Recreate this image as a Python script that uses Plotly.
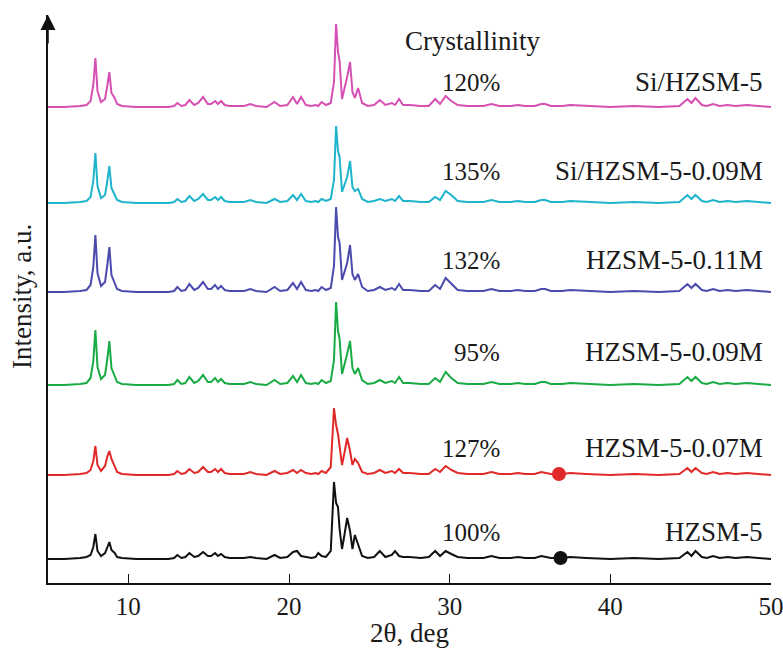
import plotly.graph_objects as go

# ---------------- data ----------------
two_theta = [5.0, 6.0, 7.0, 7.4, 7.65, 7.82, 7.95, 8.08, 8.3, 8.55, 8.7, 8.82, 8.95, 9.15, 9.3, 9.6,
             10.5, 11.5, 12.5, 12.85, 13.05, 13.3, 13.55, 13.8, 14.1, 14.35, 14.65, 14.95, 15.15, 15.4,
             15.58, 15.77, 16.0, 16.3, 16.6, 17.2, 17.6, 17.95, 18.6, 19.1, 19.45, 19.9, 20.25, 20.5,
             20.75, 21.05, 21.4, 21.65, 21.82, 22.03, 22.3, 22.6, 22.8, 22.93, 23.05, 23.15, 23.3, 23.45,
             23.62, 23.8, 23.95, 24.1, 24.3, 24.55, 24.9, 25.3, 25.65, 26.0, 26.4, 26.6, 26.85, 27.1,
             27.5, 28.2, 28.7, 29.1, 29.4, 29.75, 30.1, 30.5, 31.1, 31.6, 32.1, 32.6, 33.1, 33.8, 34.25,
             34.7, 35.3, 35.7, 35.95, 36.3, 37.0, 37.5, 38.5, 40.0, 41.5, 43.0, 44.3, 44.8, 45.05, 45.3,
             45.7, 46.0, 46.4, 46.8, 47.3, 47.8, 48.5, 49.2, 50.0]

I_si_hzsm5 = ([0, 0, 1, 2, 6, 22, 49, 16, 5, 8, 22, 35, 14, 9, 3, 1, 0, 0, 0]
              + [1, 4, 1, 2, 7, 2, 4, 10, 3, 3, 6, 3, 6, 2, 1, 1, 1, 3, 1, 0, 5, 1, 2]
              + [10, 3, 10, 2, 1, 2, 1, 5, 2, 4, 25, 83, 55, 46, 8, 18, 30, 45, 15, 9, 19, 4, 1]
              + [2, 7, 2, 4, 2, 8, 2, 2, 1, 1, 8, 3, 11, 6, 2, 1, 1, 1, 3, 1, 1, 2, 1, 1, 3, 3, 1, 1, 2, 1, 0, 1, 0]
              + [1, 8, 4, 9, 2, 1, 3, 1, 2, 1, 2, 1, 0])
I_si_hzsm5_009 = ([0, 0, 1, 2, 6, 22, 50, 17, 5, 8, 23, 37, 15, 9, 3, 1, 0, 0, 0]
                  + [1, 4, 1, 2, 7, 2, 4, 9, 3, 3, 6, 3, 6, 2, 1, 1, 1, 3, 1, 0, 4, 1, 2]
                  + [8, 3, 9, 2, 1, 2, 1, 4, 2, 4, 23, 77, 52, 46, 11, 18, 26, 42, 16, 12, 14, 4, 1]
                  + [2, 4, 2, 4, 2, 7, 2, 2, 1, 1, 6, 3, 12, 8, 2, 1, 1, 1, 3, 1, 1, 2, 1, 1, 3, 3, 1, 1, 2, 1, 0, 1, 0]
                  + [1, 8, 4, 8, 2, 1, 3, 1, 2, 1, 2, 1, 0])
I_hzsm5_011 = ([0, 0, 1, 2, 7, 25, 57, 19, 6, 10, 28, 45, 17, 10, 3, 1, 0, 0, 0]
               + [1, 5, 1, 2, 8, 2, 4, 10, 3, 3, 7, 3, 6, 2, 1, 1, 1, 3, 1, 0, 5, 1, 2]
               + [9, 3, 10, 2, 1, 2, 1, 5, 2, 4, 26, 85, 55, 49, 12, 20, 29, 47, 18, 12, 18, 5, 1]
               + [2, 5, 2, 4, 2, 8, 2, 2, 1, 1, 7, 3, 14, 8, 2, 1, 1, 1, 3, 1, 1, 2, 1, 1, 3, 3, 1, 1, 2, 1, 0, 1, 0]
               + [1, 8, 4, 8, 2, 1, 3, 1, 2, 1, 2, 1, 0])
I_hzsm5_009 = ([0, 0, 1, 2, 7, 24, 55, 18, 6, 10, 27, 44, 17, 10, 3, 1, 0, 0, 0]
               + [1, 5, 1, 2, 8, 2, 4, 10, 3, 3, 7, 3, 6, 2, 1, 1, 1, 3, 1, 0, 5, 1, 2]
               + [9, 3, 10, 2, 1, 2, 1, 5, 2, 4, 25, 83, 54, 46, 11, 20, 31, 44, 17, 11, 17, 5, 1]
               + [2, 5, 2, 4, 2, 8, 2, 2, 1, 1, 7, 3, 13, 7, 2, 1, 1, 1, 3, 1, 1, 2, 1, 1, 3, 3, 1, 1, 2, 1, 0, 1, 0]
               + [1, 8, 4, 8, 2, 1, 3, 1, 2, 1, 2, 1, 0])
I_hzsm5_007 = ([0, 0, 1, 2, 5, 14, 29, 10, 4, 9, 19, 24, 16, 8, 3, 1, 0, 0, 0]
               + [1, 4, 1, 2, 6, 2, 3, 8, 3, 3, 6, 3, 6, 2, 1, 1, 1, 3, 1, 0, 4, 1, 2]
               + [5, 2, 5, 2, 1, 2, 1, 4, 2, 8, 67, 50, 41, 28, 10, 22, 37, 24, 10, 16, 12, 3, 1]
               + [2, 5, 2, 4, 2, 6, 2, 2, 1, 1, 6, 3, 9, 5, 2, 1, 1, 1, 3, 1, 1, 2, 1, 1, 3, 2, 1, 1, 2, 1, 0, 1, 0]
               + [1, 7, 3, 7, 2, 1, 3, 1, 2, 1, 2, 1, 0])
I_hzsm5 = ([0, 0, 1, 2, 4, 12, 25, 8, 3, 6, 12, 17, 9, 6, 2, 1, 0, 0, 0]
           + [1, 4, 1, 2, 6, 2, 3, 7, 3, 3, 6, 3, 5, 2, 1, 1, 1, 2, 1, 0, 4, 1, 2]
           + [7, 8, 3, 2, 1, 2, 6, 3, 2, 8, 77, 56, 52, 30, 10, 24, 41, 28, 10, 24, 15, 3, 1]
           + [2, 8, 2, 4, 8, 3, 2, 2, 1, 2, 8, 3, 8, 5, 2, 1, 1, 1, 3, 1, 1, 2, 1, 1, 3, 2, 1, 1, 2, 1, 0, 1, 0]
           + [1, 7, 3, 8, 2, 1, 3, 1, 2, 1, 2, 1, 0])

sample_names = ["Si/HZSM-5", "Si/HZSM-5-0.09M", "HZSM-5-0.11M", "HZSM-5-0.09M", "HZSM-5-0.07M", "HZSM-5"]
crystallinity = ["120%", "135%", "132%", "95%", "127%", "100%"]
intensities = [I_si_hzsm5, I_si_hzsm5_009, I_hzsm5_011, I_hzsm5_009, I_hzsm5_007, I_hzsm5]
marker_two_theta = [36.8, 36.9]   # dots on HZSM-5-0.07M and HZSM-5
x_ticks = [10, 20, 30, 40, 50]

for arr in intensities:
    assert len(arr) == len(two_theta), len(arr)

# ---------------- styling / layout ----------------
offsets = [476, 380, 291, 198, 108, 24]
colors = ["#d64fb3", "#1db4cc", "#4b4bae", "#1aab45", "#e02a2a", "#111111"]
label_y = [501, 412, 323, 231, 135, 51]
FONT = "Liberation Serif, Times New Roman, serif"
TXT = "#1a1a1a"

fig = go.Figure()
for name, I, off, col in zip(sample_names, intensities, offsets, colors):
    fig.add_trace(go.Scatter(x=two_theta, y=[v + off for v in I], mode="lines",
                             line=dict(color=col, width=2), name=name, showlegend=False))

fig.add_trace(go.Scatter(x=marker_two_theta, y=[offsets[4] + 1, offsets[5] + 1], mode="markers",
                         marker=dict(size=14, color=[colors[4], colors[5]]), showlegend=False))

for name, cr, ly in zip(sample_names, crystallinity, label_y):
    fig.add_annotation(x=49.6, y=ly, text=name, showarrow=False, xanchor="right", yanchor="middle",
                       font=dict(family=FONT, size=27, color=TXT))
    fig.add_annotation(x=33.25, y=ly, text=cr, showarrow=False, xanchor="right", yanchor="middle",
                       font=dict(family=FONT, size=25, color=TXT))

fig.add_annotation(x=31.45, y=542, text="Crystallinity", showarrow=False, xanchor="center",
                   yanchor="middle", font=dict(family=FONT, size=27, color=TXT))

# y-axis arrow head
fig.add_annotation(xref="paper", yref="paper", x=0, y=1, ax=0, ay=30, text="", showarrow=True,
                   arrowhead=2, arrowsize=2, arrowwidth=1.5, arrowcolor="#111")

# axis titles
fig.add_annotation(xref="paper", yref="paper", x=0, y=0.5035, xshift=-26, text="Intensity, a.u.",
                   textangle=-90, showarrow=False, xanchor="center", yanchor="middle",
                   font=dict(family=FONT, size=27, color=TXT))
fig.add_annotation(xref="paper", yref="paper", x=0.5, y=0, yshift=-50, text="2θ, deg",
                   showarrow=False, xanchor="center", yanchor="middle",
                   font=dict(family=FONT, size=27, color=TXT))

fig.update_layout(
    width=783, height=650,
    margin=dict(l=48, r=12, t=15, b=67, autoexpand=False),
    paper_bgcolor="white", plot_bgcolor="white",
    xaxis=dict(range=[5, 50], tickvals=x_ticks, ticks="inside", ticklen=9, tickwidth=1,
               tickcolor="#111", showline=True, linecolor="#111", linewidth=1.5, automargin=False,
               ticklabeloverflow="allow",
               showgrid=False, zeroline=False, tickfont=dict(family=FONT, size=25, color=TXT)),
    yaxis=dict(range=[0, 568], showticklabels=False, ticks="", showline=True, linecolor="#111",
               linewidth=1.5, showgrid=False, zeroline=False, automargin=False),
)

fig.write_html("out.html")
